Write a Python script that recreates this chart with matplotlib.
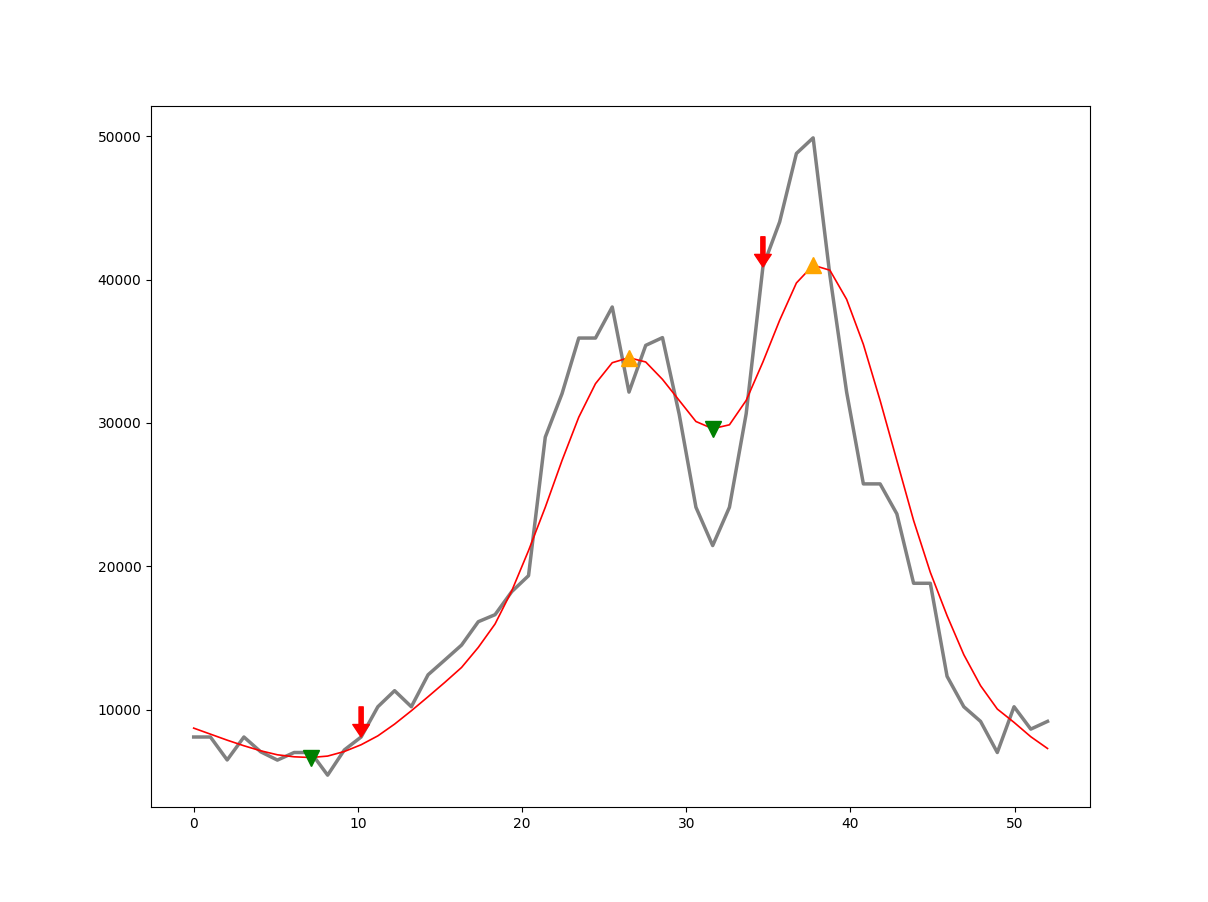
import matplotlib
matplotlib.use("Agg")
import matplotlib.pyplot as plt
import numpy as np

# Data
raw = [
    8100, 8100, 6500, 8100, 7070, 6490, 7020, 7020, 5440, 7200,
    8100, 10210, 11330, 10210, 12440, 13470, 14510, 16140, 16630, 18240,
    19350, 29010, 32040, 35920, 35920, 38085, 32150, 35410, 35950, 30600,
    24120, 21450, 24120, 30640, 40880, 44020, 48790, 49880, 40300, 32150,
    25750, 25750, 23660, 18820, 18820, 12330, 10210, 9190, 7020, 10210,
    8650, 9190,
]
smooth = [
    8720, 8300, 7880, 7490, 7140, 6860, 6720, 6670, 6770, 7090,
    7560, 8180, 9000, 9930, 10910, 11910, 12950, 14350, 15980, 18300,
    21100, 24120, 27380, 30400, 32740, 34200, 34550, 34250, 33040, 31570,
    30100, 29600, 29870, 31570, 34250, 37160, 39760, 41000, 40650, 38620,
    35480, 31570, 27380, 23200, 19580, 16560, 13840, 11680, 10050, 9120,
    8120, 7300,
]
peak_idx = [26, 37]
trough_idx = [7, 31]
arrow_idx = [10, 34]

x = np.linspace(0, 52, len(raw))
raw = np.array(raw)
smooth = np.array(smooth)

fig, ax = plt.subplots(figsize=(12.08, 9.02), dpi=100)
fig.subplots_adjust(left=0.125, right=0.9025, top=0.8825, bottom=0.1053)

ax.plot(x, raw, color='gray', linewidth=2.5)
ax.plot(x, smooth, color='red', linewidth=1.2)

ax.plot(x[peak_idx], smooth[peak_idx], '^', color='orange', markersize=12)
ax.plot(x[trough_idx], smooth[trough_idx], 'v', color='green', markersize=12)

for i in arrow_idx:
    ax.annotate('', xy=(x[i], raw[i]), xytext=(x[i], raw[i] + 2100),
                arrowprops=dict(color='red', width=3, headwidth=12, headlength=9))

plt.savefig("out.png", dpi=100)
